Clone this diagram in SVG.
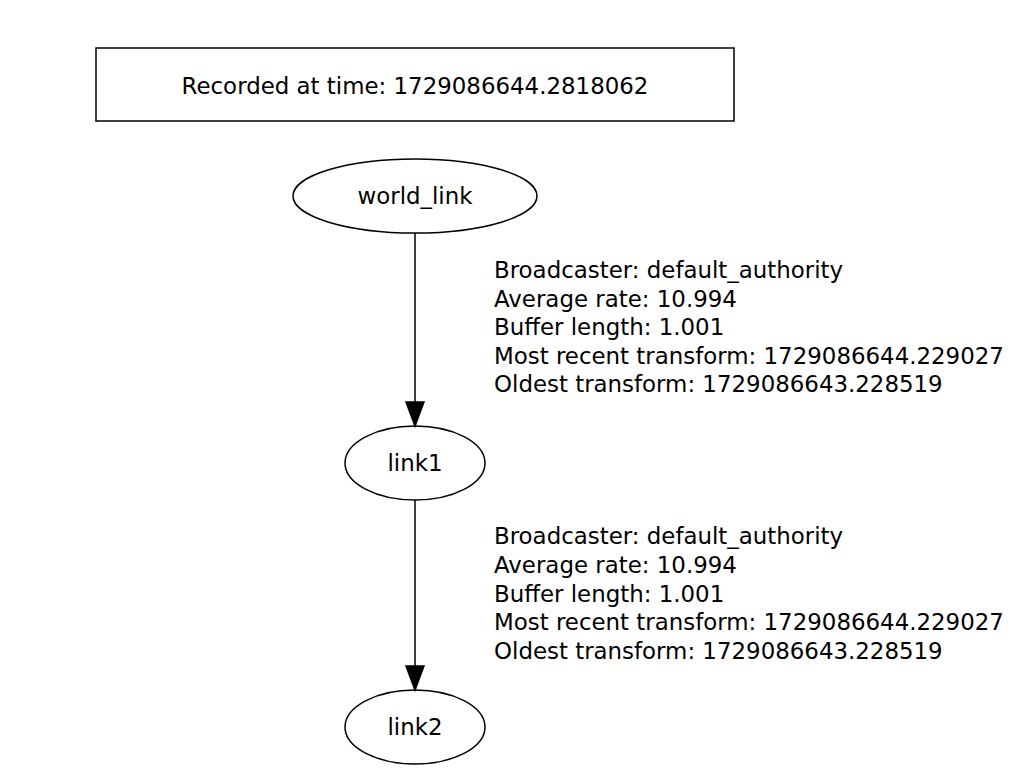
<svg xmlns="http://www.w3.org/2000/svg" width="1018" height="769" viewBox="0 0 1018 769">
<defs>
<style>
text{font-family:"DejaVu Sans","Liberation Sans",sans-serif;font-size:22.9px;fill:#000}
.c{text-anchor:middle}
.n{fill:none;stroke:#000;stroke-width:1.5}
.e{fill:none;stroke:#000;stroke-width:1.5}
.h{fill:#000;stroke:#000;stroke-width:1.5}
</style>
</defs>
<rect width="1018" height="769" fill="#fff"/>
<g id="title">
<rect x="96" y="48" width="638" height="73" class="n"/>
<text x="415" y="94" class="c">Recorded at time: 1729086644.2818062</text>
</g>
<g id="world_link">
<ellipse cx="415" cy="196" rx="122" ry="37" class="n"/>
<text x="415" y="204" class="c">world_link</text>
</g>
<g id="link1">
<ellipse cx="415" cy="463" rx="70" ry="37" class="n"/>
<text x="415" y="471" class="c">link1</text>
</g>
<g id="link2">
<ellipse cx="415" cy="727" rx="70" ry="37" class="n"/>
<text x="415" y="735" class="c">link2</text>
</g>
<g id="connectors">
<line x1="415" y1="233" x2="415" y2="403" class="e"/>
<path d="M406,402 L424,402 L415,426 Z" class="h"/>
<line x1="415" y1="500" x2="415" y2="667" class="e"/>
<path d="M406,666 L424,666 L415,690 Z" class="h"/>
<text x="494" y="278">Broadcaster: default_authority</text>
<text x="494" y="307">Average rate: 10.994</text>
<text x="494" y="335">Buffer length: 1.001</text>
<text x="494" y="364">Most recent transform: 1729086644.229027</text>
<text x="494" y="392">Oldest transform: 1729086643.228519</text>
<text x="494" y="544">Broadcaster: default_authority</text>
<text x="494" y="573">Average rate: 10.994</text>
<text x="494" y="602">Buffer length: 1.001</text>
<text x="494" y="630">Most recent transform: 1729086644.229027</text>
<text x="494" y="659">Oldest transform: 1729086643.228519</text>
</g>
</svg>
